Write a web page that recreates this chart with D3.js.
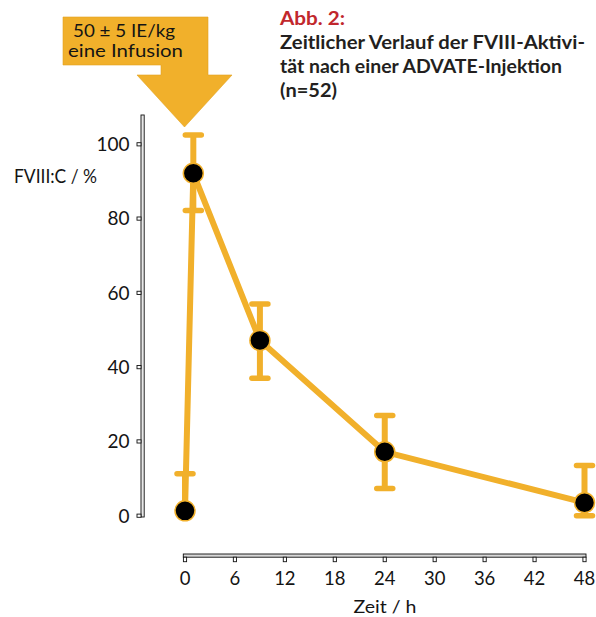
<!DOCTYPE html>
<html>
<head>
<meta charset="utf-8">
<script src="https://cdn.jsdelivr.net/npm/d3@7"></script>
<style>
  html, body { margin: 0; padding: 0; background: #fff; }
  svg { display: block; }
  text { font-family: Lato, "Open Sans", sans-serif; fill: #141414; }
</style>
</head>
<body>
<svg id="chart" width="596" height="617"></svg>
<script>
// FVIII activity over time after one dose
const timesH   = [0, 1, 9, 24, 48];
const fviiiPct = [1.3, 92.2, 47.2, 17.2, 3.5];
const errHigh  = [11.3, 102.5, 57, 27, 13.5];
const errLow   = [1.3, 82.2, 37, 7.3, 0];

const xTicks = [0, 6, 12, 18, 24, 30, 36, 42, 48];
const yTicks = [0, 20, 40, 60, 80, 100];

const titleLines = [
  "Zeitlicher Verlauf der FVIII-Aktivi-",
  "tät nach einer ADVATE-Injektion",
  "(n=52)"
];
const doseLines = ["50 ± 5 IE/kg", "eine Infusion"];

const orange = "#F1B02B";
const svg = d3.select("#chart");

const x = d3.scaleLinear().domain([0, 48]).range([185, 584.5]);
const y = d3.scaleLinear().domain([0, 100]).range([515.7, 144.3]);

// fit a text run to a given advance width
function fit(sel, w) {
  sel.attr("textLength", w).attr("lengthAdjust", "spacingAndGlyphs");
}

// ---- y axis: narrow hollow bar with boxed ticks
const yAxisG = svg.append("g");
yAxisG.append("rect")
  .attr("x", 141).attr("y", 115).attr("width", 3.2).attr("height", 402)
  .attr("fill", "#e8e8e8").attr("stroke", "#111").attr("stroke-width", 0.9);
yAxisG.selectAll("rect.tick").data(yTicks).join("rect")
  .attr("class", "tick")
  .attr("x", 137).attr("y", d => y(d) - 1.6)
  .attr("width", 4).attr("height", 3.2)
  .attr("fill", "#fff").attr("stroke", "#111").attr("stroke-width", 0.9);
yAxisG.selectAll("text").data(yTicks).join("text")
  .attr("x", 129.5).attr("y", d => y(d) + 6.8)
  .attr("text-anchor", "end").attr("font-size", 19)
  .text(d => d);

svg.append("text").attr("x", 14).attr("y", 183).attr("font-size", 19.5)
  .call(fit, 83)
  .text("FVIII:C / %");

// ---- x axis
const xAxisG = svg.append("g");
xAxisG.append("rect")
  .attr("x", 183.3).attr("y", 554).attr("width", 402.7).attr("height", 3.2)
  .attr("fill", "#d8d8d8").attr("stroke", "#111").attr("stroke-width", 0.9);
xAxisG.selectAll("rect.tick").data(xTicks).join("rect")
  .attr("class", "tick")
  .attr("x", d => x(d) - 1.6).attr("y", 557.2)
  .attr("width", 3.2).attr("height", 4.5)
  .attr("fill", "#fff").attr("stroke", "#111").attr("stroke-width", 0.9);
xAxisG.selectAll("text").data(xTicks).join("text")
  .attr("x", d => x(d)).attr("y", 585)
  .attr("text-anchor", "middle").attr("font-size", 18.5)
  .text(d => d);
svg.append("text").attr("x", 385).attr("y", 613).attr("text-anchor", "middle")
  .attr("font-size", 18).call(fit, 63).text("Zeit / h");

// ---- data
const pts = timesH.map((t, i) => ({ t, v: fviiiPct[i], hi: errHigh[i], lo: errLow[i] }));

svg.append("path")
  .datum(pts)
  .attr("d", d3.line().x(d => x(d.t)).y(d => y(d.v)))
  .attr("fill", "none").attr("stroke", orange)
  .attr("stroke-width", 6).attr("stroke-linejoin", "round");

const eb = svg.append("g").attr("stroke", orange).attr("stroke-linecap", "round");
pts.forEach(d => {
  eb.append("line")
    .attr("x1", x(d.t)).attr("x2", x(d.t))
    .attr("y1", y(d.hi)).attr("y2", y(d.lo))
    .attr("stroke-width", 6).attr("stroke-linecap", "butt");
  eb.append("line")
    .attr("x1", x(d.t) - 8).attr("x2", x(d.t) + 8)
    .attr("y1", y(d.hi)).attr("y2", y(d.hi))
    .attr("stroke-width", 5.5);
  if (d.lo < d.v) {
    eb.append("line")
      .attr("x1", x(d.t) - 8).attr("x2", x(d.t) + 8)
      .attr("y1", y(d.lo)).attr("y2", y(d.lo))
      .attr("stroke-width", 5.5);
  }
});

svg.append("g").selectAll("circle").data(pts).join("circle")
  .attr("cx", d => x(d.t)).attr("cy", d => y(d.v)).attr("r", 10)
  .attr("fill", "#000").attr("stroke", orange).attr("stroke-width", 1.5);

// ---- dose arrow
const arrow = [
  [63, 17], [208, 17], [208, 75], [232, 75], [184.5, 127],
  [137, 75], [161, 75], [161, 65], [63, 65]
];
svg.append("path")
  .attr("d", d3.line()(arrow) + "Z")
  .attr("fill", orange).attr("stroke", "#e3a320").attr("stroke-width", 0.6);
svg.append("g").selectAll("text").data(doseLines).join("text")
  .attr("x", (d, i) => i === 0 ? 73 : 68)
  .attr("y", (d, i) => i === 0 ? 36.5 : 57)
  .attr("font-size", 17)
  .attr("textLength", (d, i) => i === 0 ? 102 : 115)
  .attr("lengthAdjust", "spacingAndGlyphs")
  .text(d => d);

// ---- caption
svg.append("text").attr("x", 280).attr("y", 25)
  .attr("font-size", 19).attr("font-weight", "bold")
  .style("fill", "#c1272d").call(fit, 65).text("Abb. 2:");
const capWidths = [305, 282, 57];
svg.append("g").selectAll("text").data(titleLines).join("text")
  .attr("x", 280).attr("y", (d, i) => 49 + i * 24)
  .attr("font-size", 18).attr("font-weight", "bold")
  .style("fill", "#231f20")
  .attr("textLength", (d, i) => capWidths[i])
  .attr("lengthAdjust", "spacingAndGlyphs")
  .text(d => d);
</script>
</body>
</html>
